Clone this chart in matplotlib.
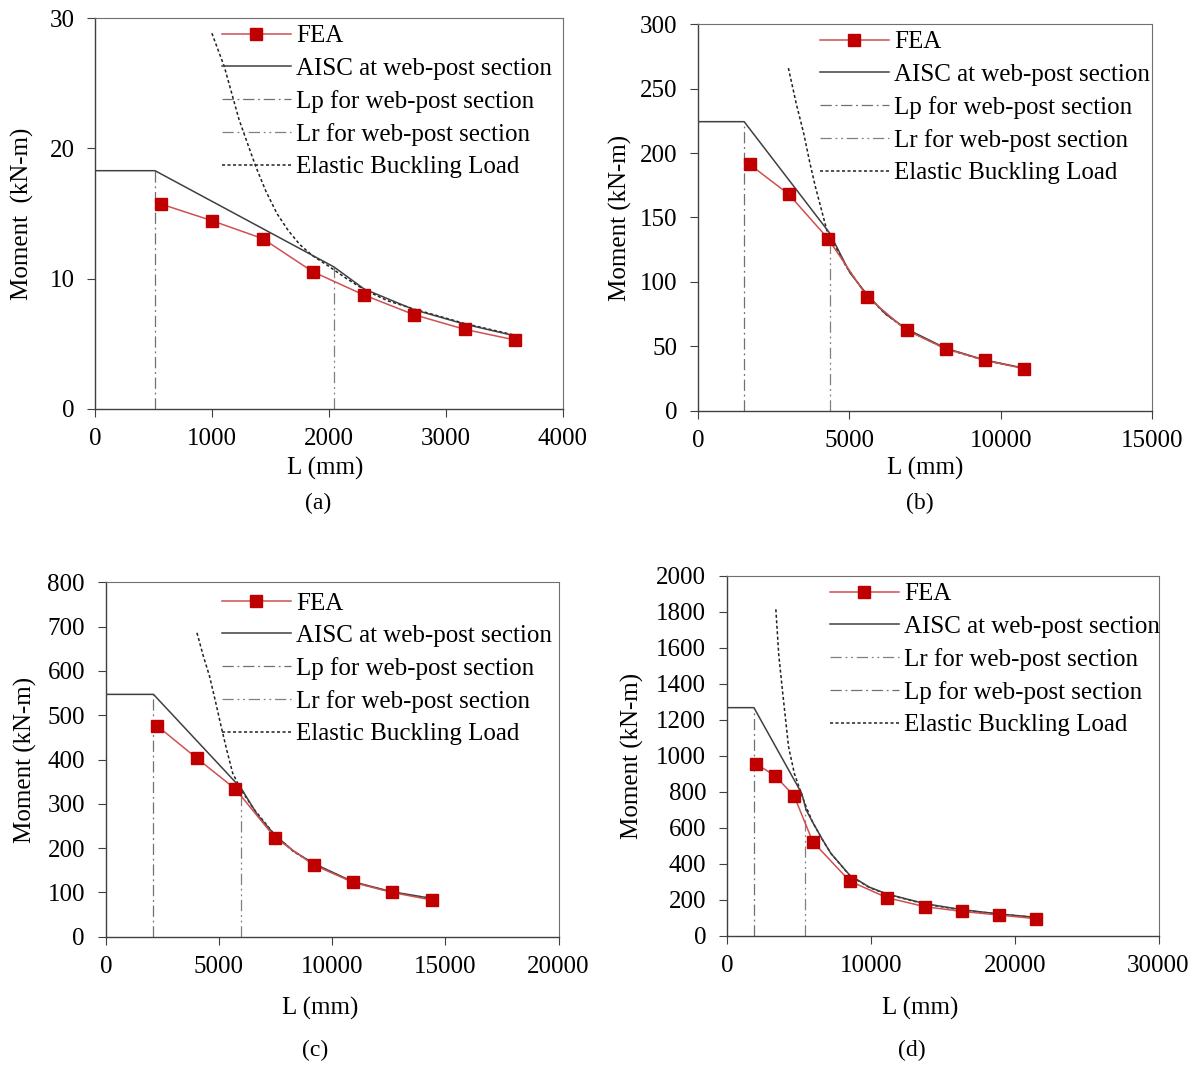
import numpy as np
import matplotlib.pyplot as plt

plt.rcParams['font.family'] = ['Liberation Serif', 'DejaVu Serif']

# ---- panel (a) ----
a_fea_x = [560, 997, 1432, 1860, 2298, 2729, 3160, 3592]
a_fea_y = [15.73, 14.45, 13.07, 10.53, 8.74, 7.22, 6.10, 5.28]
a_aisc_x = [0, 510, 2041, 2300, 2730, 3160, 3590]
a_aisc_y = [18.29, 18.29, 10.9, 9.2, 7.6, 6.5, 5.6]
a_elb_x = [997, 1103, 1230, 1373, 1460, 1554, 1650, 1751, 1860, 1982, 2150, 2300, 2500, 2730, 3160, 3590]
a_elb_y = [28.85, 26.3, 22.2, 18.6, 16.7, 15.0, 13.7, 12.6, 11.75, 11.04, 10.0, 9.15, 8.3, 7.65, 6.55, 5.65]
a_lp = [510, 18.29]
a_lr = [2041, 10.9]

# ---- panel (b) ----
b_fea_x = [1703, 3000, 4296, 5593, 6890, 8186, 9483, 10779]
b_fea_y = [191.3, 168.0, 133.6, 88.3, 62.4, 48.1, 39.1, 32.6]
b_aisc_x = [0, 1525, 4347, 5021, 5593, 6200, 6890, 8186, 9483, 10779]
b_aisc_y = [224.4, 224.4, 138, 107, 90, 75, 63.5, 48.5, 39.3, 33]
b_elb_x = [2987, 3250, 3496, 3700, 3877, 4258, 4894, 5593, 6200, 6890, 8186, 9483, 10779]
b_elb_y = [266, 238, 215, 192, 174, 140, 112, 89, 75, 63, 48, 39, 33]
b_lp = [1525, 224.4]
b_lr = [4347, 138]

# ---- panel (c) ----
c_fea_x = [2277, 4027, 5726, 7477, 9193, 10926, 12625, 14393]
c_fea_y = [475.6, 402.6, 333.3, 223.5, 161.8, 122.7, 100.1, 82.8]
c_aisc_x = [0, 2107, 5981, 6700, 7477, 8300, 9193, 10926, 12625, 14393]
c_aisc_y = [547, 547, 335, 275, 229, 193, 165, 124, 101.6, 86.5]
c_elb_x = [4027, 4300, 4588, 4850, 5098, 5350, 5607, 5981, 6542, 7477, 8300, 9193, 10926, 12625, 14393]
c_elb_y = [686, 635, 587, 530, 474, 420, 369, 331, 288, 229, 192, 164, 123, 101, 86]
c_lp = [2107, 547]
c_lr = [5981, 335]

# ---- panel (d) ----
d_fea_x = [2032, 3369, 4679, 5963, 8529, 11123, 13770, 16310, 18904, 21497]
d_fea_y = [954.6, 887.9, 774.8, 522.7, 304, 211.3, 161.3, 135.3, 114.9, 94.5]
d_aisc_x = [0, 1872, 5200, 5500, 5963, 6600, 7219, 8529, 9893, 11123, 13770, 16310, 18904, 21497]
d_aisc_y = [1268, 1268, 790, 700, 630, 540, 458, 337, 270, 232, 178, 145, 121, 102]
d_elb_x = [3396, 3600, 3877, 4278, 4679, 5080, 5481, 5963, 6600, 7219, 8529, 9893, 11123, 13770, 16310, 18904, 21497]
d_elb_y = [1815, 1560, 1347, 1051, 903, 810, 720, 630, 538, 458, 335, 268, 230, 176, 143, 120, 101]
d_lp = [1872, 1268]
d_lr = [5400, 740]

panels = [
    dict(fea=(a_fea_x, a_fea_y), aisc=(a_aisc_x, a_aisc_y), elb=(a_elb_x, a_elb_y), lp=a_lp, lr=a_lr,
         xlim=4000, xstep=1000, ylim=30, ystep=10, ylabel='Moment  (kN-m)', cap='(a)',
         box=(95.4, 562.7, 18.3, 408.7), leg=(222, 25), xl=(325, 468), capxy=(318, 503), yl=22,
         order=['fea', 'aisc', 'lp', 'lr', 'elb']),
    dict(fea=(b_fea_x, b_fea_y), aisc=(b_aisc_x, b_aisc_y), elb=(b_elb_x, b_elb_y), lp=b_lp, lr=b_lr,
         xlim=15000, xstep=5000, ylim=300, ystep=50, ylabel='Moment (kN-m)', cap='(b)',
         box=(698, 1152, 24.3, 410.7), leg=(820, 31), xl=(925, 468), capxy=(920, 503), yl=620,
         order=['fea', 'aisc', 'lp', 'lr', 'elb']),
    dict(fea=(c_fea_x, c_fea_y), aisc=(c_aisc_x, c_aisc_y), elb=(c_elb_x, c_elb_y), lp=c_lp, lr=c_lr,
         xlim=20000, xstep=5000, ylim=800, ystep=100, ylabel='Moment (kN-m)', cap='(c)',
         box=(105.8, 558.5, 582.3, 936.7), leg=(222, 592), xl=(320, 1008), capxy=(315, 1050), yl=25,
         order=['fea', 'aisc', 'lp', 'lr', 'elb']),
    dict(fea=(d_fea_x, d_fea_y), aisc=(d_aisc_x, d_aisc_y), elb=(d_elb_x, d_elb_y), lp=d_lp, lr=d_lr,
         xlim=30000, xstep=10000, ylim=2000, ystep=200, ylabel='Moment (kN-m)', cap='(d)',
         box=(727, 1158.5, 576, 935.7), leg=(830, 583), xl=(920, 1008), capxy=(912, 1050), yl=632,
         order=['fea', 'aisc', 'lr', 'lp', 'elb']),
]

W, H = 1200, 1066
fig = plt.figure(figsize=(W / 100, H / 100), dpi=100)

for p in panels:
    x0, x1, y0, y1 = p['box']
    ax = fig.add_axes([x0 / W, 1 - y1 / H, (x1 - x0) / W, (y1 - y0) / H])
    h = {}
    h['lp'], = ax.plot([p['lp'][0], p['lp'][0]], [0, p['lp'][1]], color='#707070', lw=0.9,
                       dashes=(9, 3, 1.5, 3), label='Lp for web-post section')
    h['lr'], = ax.plot([p['lr'][0], p['lr'][0]], [0, p['lr'][1]], color='#808080', lw=0.9,
                       dashes=(9, 3, 1.5, 3, 1.5, 3), label='Lr for web-post section')
    h['elb'], = ax.plot(*p['elb'], color='#202020', lw=1.1, dashes=(2, 1.6), label='Elastic Buckling Load')
    h['aisc'], = ax.plot(*p['aisc'], color='#404040', lw=1.1, label='AISC at web-post section')
    h['fea'], = ax.plot(*p['fea'], color='#d05050', lw=1.1, marker='s', ms=8.5,
                        mfc='#c00000', mec='#c00000', label='FEA')
    ax.set_xlim(0, p['xlim'])
    ax.set_ylim(0, p['ylim'])
    ax.set_xticks(np.arange(0, p['xlim'] + 1, p['xstep']))
    ax.set_yticks(np.arange(0, p['ylim'] + 1, p['ystep']))
    ax.tick_params(direction='out', length=6, width=0.8, color='#404040', labelsize=18)
    ax.tick_params(axis='y', pad=9)
    ax.tick_params(axis='x', pad=8)
    for s in ['left', 'bottom']:
        ax.spines[s].set_color('#404040')
        ax.spines[s].set_linewidth(1.0)
    for s in ['top', 'right']:
        ax.spines[s].set_color('#707070')
        ax.spines[s].set_linewidth(0.8)
    ax.legend([h[k] for k in p['order']], [h[k].get_label() for k in p['order']],
              loc='upper left', bbox_to_anchor=(p['leg'][0] / W, 1 - p['leg'][1] / H),
              bbox_transform=fig.transFigure, frameon=False, fontsize=18,
              handlelength=2.75, handletextpad=0.22, labelspacing=0.4,
              borderpad=0, borderaxespad=0)
    fig.text(p['xl'][0] / W, 1 - p['xl'][1] / H, 'L (mm)', ha='center', va='center', fontsize=18)
    fig.text(p['capxy'][0] / W, 1 - p['capxy'][1] / H, p['cap'], ha='center', va='center', fontsize=17)
    fig.text(p['yl'] / W, 1 - ((y0 + y1) / 2) / H, p['ylabel'], rotation=90,
             ha='center', va='center', fontsize=18)

fig.savefig('out.png', dpi=100)
